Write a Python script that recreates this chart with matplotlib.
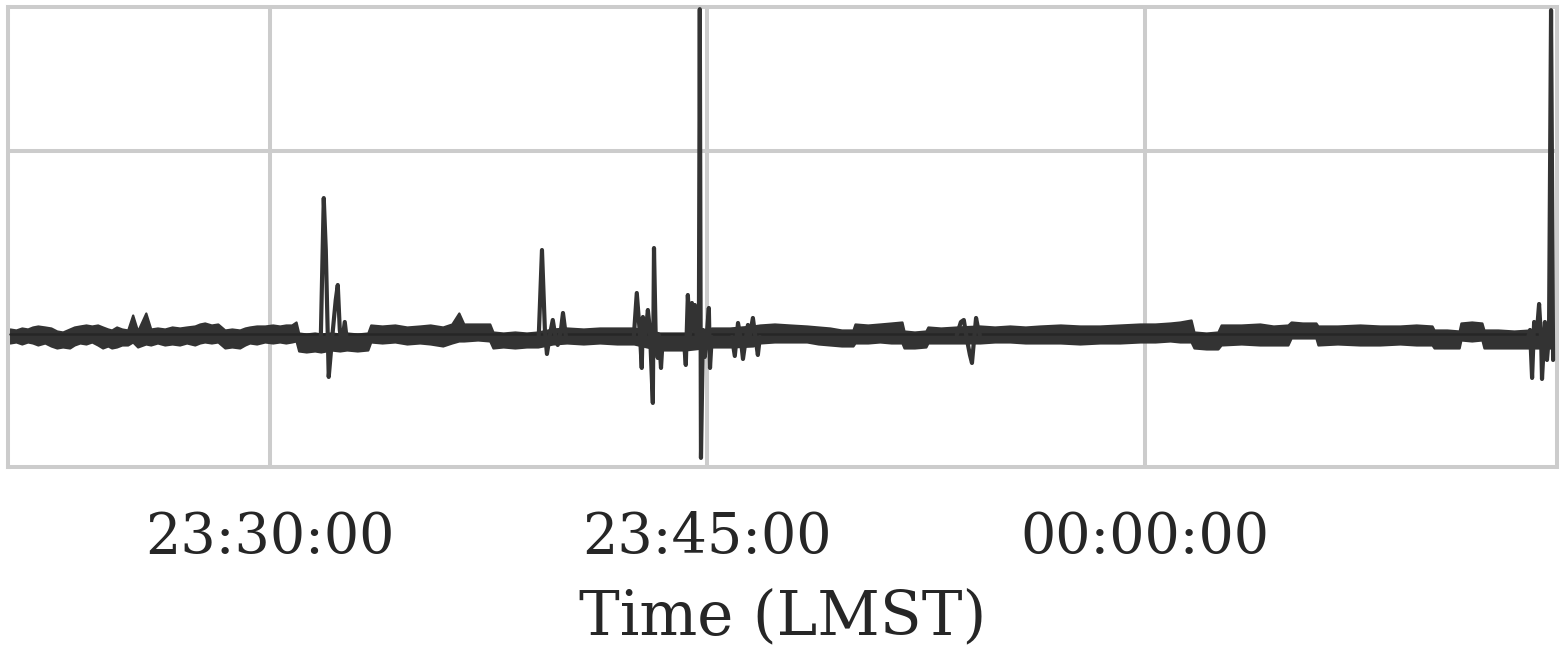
import matplotlib
matplotlib.use("Agg")
import matplotlib.pyplot as plt
import matplotlib.dates as mdates
import numpy as np
import seaborn as sns

# time in minutes relative to 23:30:00 LMST, amplitude in arbitrary units
env_min = [-8.91, -8.70, -8.50, -8.30, -8.13, -7.95, -7.71, -7.50, -7.30, -7.10,
           -6.86, -6.70, -6.51, -6.30, -6.10, -5.90, -5.73, -5.55, -5.42, -5.25,
           -5.07, -4.87, -4.70, -4.53, -4.25, -4.08, -3.85, -3.60, -3.35, -3.09,
           -2.85, -2.57, -2.40, -2.23, -2.00, -1.78, -1.54, -1.30, -1.03, -0.85,
           -0.69, -0.45, -0.17, 0.10, 0.34, 0.55, 0.75, 0.90, 0.99, 1.25,
           1.54, 1.75, 2.10, 2.40, 2.64, 3.00, 3.36, 3.46, 3.85, 4.29,
           4.70, 5.14, 5.50, 5.93, 6.24, 6.48, 6.65, 7.13, 7.54, 7.65,
           8.00, 8.40, 8.80, 9.19, 9.70, 10.18, 10.75, 11.31, 11.90, 12.48,
           13.37, 14.23, 15.15, 15.77, 16.56, 16.80, 17.30, 17.83, 18.41, 18.80,
           19.20, 19.60, 19.99, 20.06, 20.50, 20.91, 21.30, 21.67, 21.74, 22.10,
           22.49, 22.56, 23.00, 23.55, 24.34, 24.85, 25.37, 25.90, 26.40, 27.10,
           27.77, 28.45, 29.14, 29.83, 30.35, 30.86, 31.20, 31.58, 31.68, 32.10,
           32.50, 32.61, 33.30, 33.94, 34.40, 34.90, 35.01, 35.40, 35.86, 35.93,
           36.60, 37.37, 38.05, 38.74, 39.30, 39.84, 39.91, 40.35, 40.77, 40.83,
           41.20, 41.55, 41.62, 42.10, 42.65, 43.20, 43.99]
env_upper = [0.6, 0.5, 0.7, 0.6, 0.8, 0.9, 0.8, 0.7, 0.4, 0.3,
             0.6, 0.8, 0.9, 1.0, 0.9, 1.0, 0.8, 0.6, 0.5, 0.8,
             0.6, 0.5, 2.0, 0.4, 2.2, 0.6, 0.7, 0.6, 0.8, 0.7,
             0.8, 0.9, 1.1, 1.2, 1.0, 1.1, 0.5, 0.6, 0.5, 0.7,
             0.8, 0.9, 0.9, 1.0, 0.9, 1.0, 1.0, 1.3, 0.2, 0.1,
             0.2, 0.1, 0.2, 0.1, 0.2, 0.1, 0.2, 1.0, 0.9, 1.0,
             0.8, 0.9, 1.0, 0.8, 1.1, 2.2, 1.1, 1.1, 1.1, 0.3,
             0.2, 0.3, 0.2, 0.3, 0.6, 0.7, 0.6, 0.7, 0.7, 0.7,
             0.2, 0.2, 0.7, 0.7, 0.9, 1.0, 1.1, 1.0, 0.9, 0.8,
             0.7, 0.5, 0.5, 1.1, 1.0, 1.1, 1.2, 1.3, 0.4, 0.3,
             0.4, 0.8, 0.7, 0.8, 0.9, 0.8, 0.9, 0.8, 0.9, 1.0,
             0.9, 0.9, 1.0, 1.1, 1.1, 1.2, 1.3, 1.5, 0.3, 0.2,
             0.3, 1.0, 1.0, 1.1, 0.9, 1.0, 1.3, 1.2, 1.2, 0.9,
             0.9, 1.0, 0.9, 0.9, 1.0, 0.9, 0.5, 0.5, 0.4, 1.2,
             1.3, 1.2, 0.5, 0.5, 0.4, 0.5, 0.5]
env_lower = [-0.8, -0.7, -0.9, -0.7, -0.8, -1.0, -0.8, -1.1, -1.3, -1.2,
             -1.3, -1.0, -0.8, -0.9, -0.7, -1.0, -1.3, -1.1, -1.3, -1.2,
             -1.0, -1.0, -0.7, -1.2, -0.9, -1.0, -0.8, -1.0, -0.9, -1.0,
             -0.8, -1.0, -0.8, -0.7, -0.8, -0.7, -1.3, -1.2, -1.3, -1.0,
             -0.8, -0.9, -0.7, -0.8, -0.7, -0.8, -0.7, -0.6, -1.6, -1.7,
             -1.6, -1.7, -1.5, -1.6, -1.5, -1.6, -1.5, -0.7, -0.8, -0.7,
             -0.9, -0.8, -0.9, -1.1, -0.8, -0.6, -0.6, -0.5, -0.6, -1.3,
             -1.2, -1.3, -1.2, -1.2, -0.9, -0.8, -0.9, -0.8, -0.9, -0.9,
             -1.5, -1.5, -1.2, -1.2, -1.1, -0.8, -0.7, -0.7, -0.7, -0.9,
             -1.0, -1.1, -1.1, -0.8, -0.8, -0.7, -0.8, -0.8, -1.3, -1.3,
             -1.2, -0.8, -0.8, -0.8, -0.8, -0.7, -0.7, -0.8, -0.8, -0.8,
             -0.9, -0.8, -0.8, -0.7, -0.7, -0.6, -0.7, -0.7, -1.3, -1.4,
             -1.4, -1.0, -0.9, -1.0, -1.0, -1.0, -0.3, -0.3, -0.3, -1.0,
             -0.9, -1.0, -1.0, -0.9, -1.0, -1.0, -1.3, -1.3, -1.3, -0.5,
             -0.6, -0.5, -1.3, -1.3, -1.3, -1.3, -1.3]
mean_level = 0.1

# transient events on top of the noise floor
ev1_min = [1.75, 1.85, 1.92, 2.02, 2.13, 2.26, 2.33, 2.40, 2.47, 2.57, 2.64]
ev1_val = [-0.1, 13.7, 8.5, -4.2, -0.5, 3.5, 5.0, 0.5, -1.0, 1.3, -0.5]
ev2_min = [9.22, 9.33, 9.43, 9.50, 9.60, 9.70, 9.81, 9.87, 9.98, 10.05, 10.15]
ev2_val = [-0.1, 8.5, 0.5, -1.9, 0.0, 1.5, -0.5, -1.0, 0.5, 2.2, -0.1]
ev3_min = [12.48, 12.58, 12.69, 12.75, 12.79, 12.86, 12.96, 13.03, 13.13, 13.17,
           13.23, 13.30, 13.34, 13.41, 13.47]
ev3_val = [-0.1, 4.2, 0.0, -3.3, 1.8, -0.5, 2.5, 0.5, -6.8, 8.7,
           -0.5, -2.3, 0.0, -3.3, -0.3]
ev4_min = [14.19, 14.26, 14.33, 14.40, 14.47, 14.54, 14.57, 14.64, 14.71, 14.74,
           14.78, 14.85, 14.91, 14.98, 15.05, 15.09, 15.15]
ev4_val = [-0.3, -3.0, 4.0, 0.0, 3.2, 0.5, 3.0, -0.5, 1.5, 32.6,
           -12.3, 0.5, -2.2, 0.0, 2.7, -3.3, -0.2]
ev5_min = [15.84, 15.94, 16.05, 16.15, 16.22, 16.32, 16.39, 16.46, 16.56, 16.66,
           16.73, 16.80]
ev5_val = [-0.2, -2.1, 1.2, -0.5, -2.4, -0.3, 1.0, 0.0, 1.7, -0.5, -2.0, -0.2]
ev6_min = [23.55, 23.69, 23.79, 23.90, 24.00, 24.07, 24.14, 24.21, 24.27, 24.34]
ev6_val = [0.0, 1.3, 1.5, -0.5, -2.0, -2.8, -0.5, 1.7, 0.8, 0.0]
ev7_min = [43.13, 43.20, 43.27, 43.34, 43.44, 43.51, 43.58, 43.61, 43.68, 43.71,
           43.78, 43.85, 43.92, 43.99]
ev7_val = [-0.3, 0.5, -4.3, 1.3, 0.5, 3.1, -0.5, -4.4, -0.5, 1.3,
           -2.5, 0.0, 32.5, -2.5]

t_ref = np.datetime64("2019-03-01T23:30:00")


def to_time(minutes):
    return t_ref + (np.array(minutes) * 60000).astype("timedelta64[ms]")


sns.set_style("whitegrid")
plt.rcParams["font.family"] = ["DejaVu Serif", "DejaVu Sans"]
plt.rcParams["text.color"] = ".15"
plt.rcParams["xtick.color"] = ".15"
plt.rcParams["axes.labelcolor"] = ".15"

fig = plt.figure(figsize=(7.825, 3.265), dpi=200)
ax = fig.add_axes([0.005, 0.285, 0.99, 0.704])

line_color = "#333333"
t_env = to_time(env_min)
ax.fill_between(t_env, env_lower, env_upper, color=line_color, lw=0.8, zorder=2)
ax.plot(t_env[[0, -1]], [mean_level, mean_level], color="#262626", lw=0.9, zorder=3)

events = [(ev1_min, ev1_val), (ev2_min, ev2_val), (ev3_min, ev3_val),
          (ev4_min, ev4_val), (ev5_min, ev5_val), (ev6_min, ev6_val),
          (ev7_min, ev7_val)]
for ev_t, ev_v in events:
    ax.plot(to_time(ev_t), ev_v, color=line_color, lw=1.5, zorder=3,
            solid_joinstyle="round")

ax.set_xlim(to_time([-8.98, 44.13]))
ax.set_ylim(-13.2, 32.8)
ax.set_yticks([18.4])
ax.set_yticklabels([])
ax.xaxis.set_major_locator(mdates.MinuteLocator(byminute=[0, 15, 30, 45]))
ax.xaxis.set_major_formatter(mdates.DateFormatter("%H:%M:%S"))
ax.tick_params(axis="x", labelsize=20, pad=15.5, length=0)
ax.tick_params(axis="y", length=0)
ax.set_xlabel("Time (LMST)", fontsize=22, labelpad=8)

ax.grid(True, color="#cccccc", lw=1.45)
for sp in ax.spines.values():
    sp.set_color("#cccccc")
    sp.set_linewidth(1.45)

fig.savefig("out.png", dpi=200)
